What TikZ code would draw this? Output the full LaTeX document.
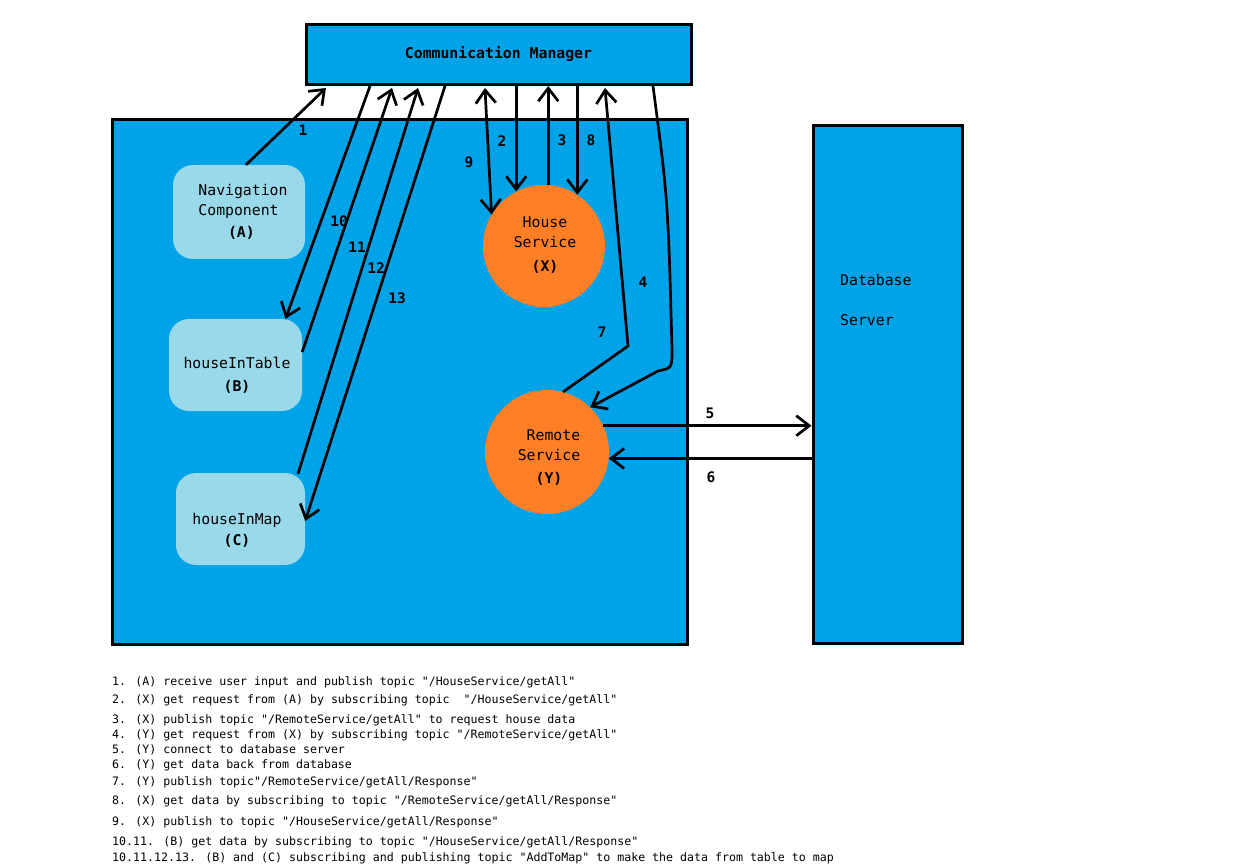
\documentclass[tikz,border=0pt]{standalone}
\usepackage{fontspec}
\newfontfamily\monof{DejaVu Sans Mono}
\usetikzlibrary{arrows.meta,calc}
\definecolor{pblue}{HTML}{00A2E8}
\definecolor{porange}{HTML}{FF7F27}
\definecolor{plight}{HTML}{99D9EA}
\begin{document}
\begin{tikzpicture}[x=1pt,y=-1pt,
  bigbox/.style={draw=black, line width=3pt, fill=pblue, rectangle, inner sep=0pt},
  softbox/.style={fill=plight, rounded corners=20pt, rectangle, inner sep=0pt},
  svc/.style={circle, fill=porange, inner sep=0pt},
  txt/.style={font=\monof\fontsize{14.8}{20}\selectfont, align=center, inner sep=0pt},
  num/.style={font=\monof\fontsize{14.5}{14.5}\selectfont\bfseries, inner sep=0pt},
  leg/.style={font=\monof\fontsize{11.6}{12}\selectfont, anchor=west, inner sep=0pt},
  arr/.style={line width=2.7pt, -{Straight Barb[length=13pt,width=20pt]}},
  darr/.style={line width=2.7pt, {Straight Barb[length=13pt,width=20pt]}-{Straight Barb[length=13pt,width=20pt]}},
]
\fill[white] (0,0) rectangle (1258,866);
\useasboundingbox (0,0) rectangle (1258,866);

% boxes
\node[bigbox, minimum width=385pt, minimum height=60pt, font=\monof\fontsize{14.8}{20}\selectfont\bfseries] (cm) at (498.5,54.5) {Communication Manager};
\node[bigbox, minimum width=575pt, minimum height=524pt] (main) at (399.5,382) {};
\node[bigbox, minimum width=149pt, minimum height=518pt] (db) at (887.5,384.5) {};
\node[txt, anchor=west] (dbt1) at (840,280) {Database};
\node[txt, anchor=west] (dbt2) at (840,320) {Server};

% components
\node[softbox, minimum width=132pt, minimum height=94pt] (nav) at (239,212) {};
\node[txt, align=left] (navt) at (243,212) {Navigation\\Component\\[2pt]\hspace*{2em}\textbf{(A)}};
\node[softbox, minimum width=133pt, minimum height=92pt] (tab) at (235.5,365) {};
\node[txt] (tabt) at (237,375) {houseInTable\\[3pt]\textbf{(B)}};
\node[softbox, minimum width=129pt, minimum height=92pt] (map) at (240.5,519) {};
\node[txt] (mapt) at (237,530) {houseInMap\\[1pt]\textbf{(C)}};

% services
\node[svc, minimum size=122pt] (hs) at (544,246) {};
\node[txt] (hst) at (545,245) {House\\Service\\[4pt]\textbf{(X)}};
\node[svc, minimum size=124pt] (rs) at (547,452) {};
\node[txt] (rst) at (549,458) {\hspace*{0.6em}Remote\\Service\\[3pt]\textbf{(Y)}};

% bend points
\coordinate (b7) at (628,346);
\coordinate (b4a) at (668,200);
\coordinate (b4b) at (672,350);
\coordinate (b4c) at (672,368);
\coordinate (b4d) at (658,371);

% connectors
\draw[arr] ($(nav.north)+(7,0)$) -- ($(cm.south west)+(21.5,2)$);
\draw[arr] ($(cm.south west)+(65.5,0)$) -- ($(tab.north)+(50,0)$);
\draw[arr] ($(tab.east)+(0,-13)$) -- ($(cm.south west)+(87.5,2)$);
\draw[arr] ($(map.north)+(57.5,1)$) -- ($(cm.south west)+(113.5,2)$);
\draw[arr] ($(cm.south west)+(140.5,0)$) -- ($(map.east)+(0,2)$);
\draw[darr] ($(cm.south west)+(180.5,2)$) -- (hs.149);
\draw[arr] (hs.117 |- cm.south) -- (hs.117);
\draw[arr] (hs.86) -- (hs.86 |- cm.south);
\draw[arr] (hs.57 |- cm.south) -- (hs.57);
\draw[arr] (rs.75) -- (b7) -- ($(cm.south west)+(300.5,2)$);
\draw[arr] ($(cm.south west)+(348.5,0)$) .. controls (b4a) .. (b4b) .. controls (b4c) .. (b4d) -- (rs.46);
\draw[arr] (rs.25) -- (rs.25 -| db.west);
\draw[arr] (rs.-6 -| db.west) -- (rs.-6);

% numbers
\node[num] (n1) at (303,130) {1};
\node[num] (n2) at (502,141) {2};
\node[num] (n3) at (562,140) {3};
\node[num] (n8) at (591,140) {8};
\node[num] (n9) at (469,162) {9};
\node[num] (n10) at (339,221) {10};
\node[num] (n11) at (357,247) {11};
\node[num] (n12) at (376,268) {12};
\node[num] (n13) at (397,298) {13};
\node[num] (n4) at (643,282) {4};
\node[num] (n7) at (602,332) {7};
\node[num] (n5) at (710,413) {5};
\node[num] (n6) at (711,477) {6};

% legend
\node[leg] (l1) at (112,682) {1. (A) receive user input and publish topic "/HouseService/getAll"};
\node[leg] (l2) at (112,700) {2. (X) get request from (A) by subscribing topic\ \ "/HouseService/getAll"};
\node[leg] (l3) at (112,720) {3. (X) publish topic "/RemoteService/getAll" to request house data};
\node[leg] (l4) at (112,735) {4. (Y) get request from (X) by subscribing topic "/RemoteService/getAll"};
\node[leg] (l5) at (112,750) {5. (Y) connect to database server};
\node[leg] (l6) at (112,765) {6. (Y) get data back from database};
\node[leg] (l7) at (112,782) {7. (Y) publish topic"/RemoteService/getAll/Response"};
\node[leg] (l8) at (112,801) {8. (X) get data by subscribing to topic "/RemoteService/getAll/Response"};
\node[leg] (l9) at (112,822) {9. (X) publish to topic "/HouseService/getAll/Response"};
\node[leg] (l10) at (112,842) {10.11. (B) get data by subscribing to topic "/HouseService/getAll/Response"};
\node[leg] (l11) at (112,858) {10.11.12.13. (B) and (C) subscribing and publishing topic "AddToMap" to make the data from table to map};
\end{tikzpicture}
\end{document}
